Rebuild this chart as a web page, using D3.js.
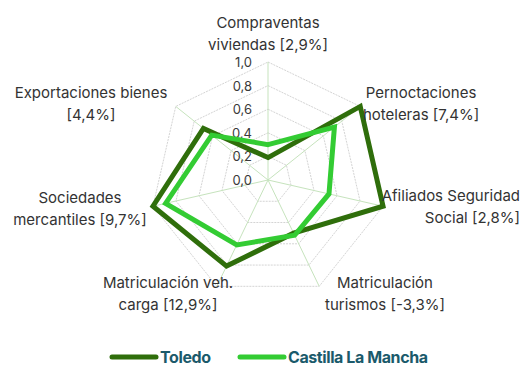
<!DOCTYPE html>
<html>
<head>
<meta charset="utf-8">
<script src="https://cdn.jsdelivr.net/npm/d3@7"></script>
<style>
  html, body { margin: 0; padding: 0; background: #fff; }
  svg { display: block; font-family: Inter, "Open Sans", sans-serif; }
</style>
</head>
<body>
<svg id="chart" width="531" height="367"></svg>
<script>
// Indicator axes (label lines) — clockwise from the top
const axisLabels = [
  ["Compraventas", "viviendas [2,9%]"],
  ["Pernoctaciones", "hoteleras [7,4%]"],
  ["Afiliados Seguridad", "Social [2,8%]"],
  ["Matriculación", "turismos [-3,3%]"],
  ["Matriculación veh.", "carga [12,9%]"],
  ["Sociedades", "mercantiles [9,7%]"],
  ["Exportaciones bienes", "[4,4%]"]
];
const seriesNames = ["Toledo", "Castilla La Mancha"];
const toledo = [0.19, 1.0, 1.0, 0.5, 0.81, 1.0, 0.70];
const castilla = [0.30, 0.72, 0.53, 0.52, 0.61, 0.89, 0.61];
const tickValues = [0, 0.2, 0.4, 0.6, 0.8, 1.0];
const tickLabels = ["0,0", "0,2", "0,4", "0,6", "0,8", "1,0"];

const colors = ["#2f6e0b", "#33cc33"];
const svg = d3.select("#chart");
const cx = 268, cy = 180, R = 118;
const n = axisLabels.length;

const r = d3.scaleLinear().domain([0, 1]).range([0, R]);
const angle = i => i * 2 * Math.PI / n;
const pt = (i, v) => [cx + r(v) * Math.sin(angle(i)), cy - r(v) * Math.cos(angle(i))];

const g = svg.append("g");

// concentric rings
tickValues.filter(t => t > 0).forEach(t => {
  g.append("path")
    .attr("d", d3.line()(d3.range(n).map(i => pt(i, t))) + "Z")
    .attr("fill", "none")
    .attr("stroke", "#d4d4d4")
    .attr("stroke-width", 1)
    .attr("stroke-dasharray", "2,1");
});

// spokes
d3.range(n).forEach(i => {
  const [x, y] = pt(i, 1);
  g.append("line")
    .attr("x1", cx).attr("y1", cy).attr("x2", x).attr("y2", y)
    .attr("stroke", "#c6e3bd").attr("stroke-width", 1);
});

// radial tick labels
g.selectAll("text.tick").data(tickValues).enter().append("text")
  .attr("class", "tick")
  .attr("x", cx - 16)
  .attr("y", d => cy - r(d) + 5)
  .attr("text-anchor", "end")
  .attr("font-size", 13)
  .attr("fill", "#3a3a3a")
  .text((d, i) => tickLabels[i]);

// series polygons
const radial = d3.lineRadial().angle((d, i) => angle(i)).radius(d => r(d)).curve(d3.curveLinearClosed);
[toledo, castilla].forEach((vals, k) => {
  g.append("path")
    .attr("transform", `translate(${cx},${cy})`)
    .attr("d", radial(vals))
    .attr("fill", "none")
    .attr("stroke", colors[k])
    .attr("stroke-width", 5)
    .attr("stroke-linejoin", "miter");
});

// axis labels
const labelPos = [
  { x: 268, y: 28, anchor: "middle" },
  { x: 421, y: 98, anchor: "middle" },
  { x: 520, y: 201, anchor: "end" },
  { x: 385, y: 288, anchor: "middle" },
  { x: 168, y: 288, anchor: "middle" },
  { x: 80, y: 203, anchor: "middle" },
  { x: 91, y: 98, anchor: "middle" }
];
axisLabels.forEach((lines, i) => {
  const p = labelPos[i];
  const t = svg.append("text")
    .attr("x", p.x).attr("y", p.y)
    .attr("text-anchor", p.anchor)
    .attr("font-size", 15)
    .attr("fill", "#333333");
  lines.forEach((ln, j) => {
    t.append("tspan").attr("x", p.x).attr("dy", j === 0 ? 0 : 22).text(ln);
  });
});

// legend
const legendX = [110, 238];
const legendTextWidth = [51, 140];
seriesNames.forEach((name, k) => {
  const lg = svg.append("g").attr("transform", `translate(${legendX[k]},357)`);
  lg.append("line").attr("x1", 2).attr("x2", 46).attr("y1", 0).attr("y2", 0)
    .attr("stroke", colors[k]).attr("stroke-width", 5).attr("stroke-linecap", "round");
  lg.append("text").attr("x", 50).attr("y", 6)
    .attr("font-size", 16).attr("font-weight", "bold")
    .attr("textLength", legendTextWidth[k]).attr("lengthAdjust", "spacing")
    .attr("fill", "#1b5a6b").text(name);
});
</script>
</body>
</html>
